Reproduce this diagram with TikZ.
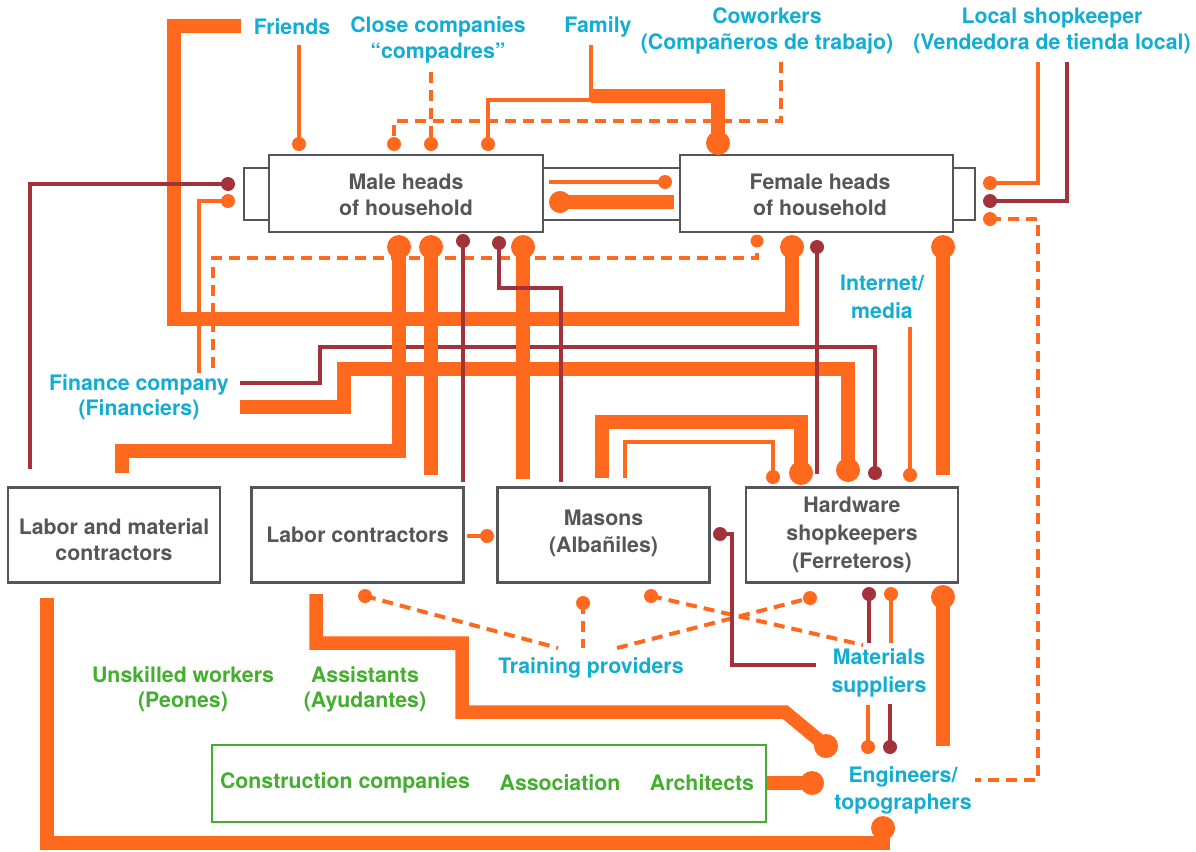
\documentclass[tikz,border=0pt]{standalone}
\usepackage{fontspec}
\setmainfont{TeX Gyre Heros}
\definecolor{pipeorange}{HTML}{FF691E}
\definecolor{pipered}{HTML}{A3323A}
\definecolor{lblblue}{HTML}{12ADD3}
\definecolor{lblgreen}{HTML}{44AE2E}
\definecolor{boxgray}{HTML}{55565A}
\newcommand\blob[3]{\fill[#1] (#2) circle (#3);}
\begin{document}
\begin{tikzpicture}[x=1pt,y=-1pt,
  txt/.style={font=\fontsize{21.3}{26}\selectfont\bfseries, align=center, inner sep=0pt},
  bluelbl/.style={txt, text=lblblue},
  greenlbl/.style={txt, text=lblgreen},
  actor/.style={txt, draw=boxgray, line width=2.4pt, text=boxgray, minimum width=#1},
  bigpipe/.style={draw=pipeorange, line width=13.5pt},
  thinpipe/.style={draw=pipeorange, line width=3.6pt},
  redpipe/.style={draw=pipered, line width=3.6pt},
  dashpipe/.style={draw=pipeorange, line width=4pt, dash pattern=on 11pt off 7pt},
  tabline/.style={draw=boxgray, line width=2.4pt}]
\useasboundingbox (0,0) rectangle (1196,851);

% ---- household boxes with their side tabs
\draw[tabline] (269,168) -- (244,168) -- (244,220) -- (269,220);
\draw[tabline] (543,168) -- (680,168);
\draw[tabline] (543,220) -- (680,220);
\draw[tabline] (953,168) -- (975,168) -- (975,220) -- (953,220);
\node[actor=274pt, minimum height=77pt] (male) at (406,193.5) {};
\node[txt, text=boxgray] at (406,195) {Male heads\\of household};
\node[actor=273pt, minimum height=77pt] (female) at (816.5,193.5) {};
\node[txt, text=boxgray] at (820,195) {Female heads\\of household};

% ---- trade boxes
\node[actor=212pt, minimum height=95pt] (lmc) at (114,535) {};
\node[txt, text=boxgray] at (114,540) {Labor and material\\contractors};
\node[actor=212pt, minimum height=95pt] (lc) at (357.5,535) {};
\node[txt, text=boxgray] at (357.5,535) {Labor contractors};
\node[actor=212pt, minimum height=95pt] (masons) at (603.5,535) {};
\node[txt, text=boxgray, font=\fontsize{21.3}{27}\selectfont\bfseries] at (603.5,533) {Masons\\(Albañiles)};
\node[actor=212pt, minimum height=95pt] (hardware) at (852,535) {};
\node[txt, text=boxgray, font=\fontsize{21.3}{28}\selectfont\bfseries] at (852,535) {Hardware\\shopkeepers\\(Ferreteros)};

% ---- group of formal actors
\node[draw=lblgreen, line width=2.4pt, minimum width=554pt, minimum height=77pt, inner sep=0pt] (formal) at (489,783.5) {};
\node[greenlbl] (constr) at (345,783) {Construction companies};
\node[greenlbl] (assoc) at (560,783) {Association};
\node[greenlbl] (archi) at (702,783) {Architects};

% ---- outside labels
\node[bluelbl] (friends) at (292,27) {Friends};
\node[bluelbl] (compadres) at (438,40) {Close companies\\“compadres”};
\node[bluelbl] (family) at (598,27) {Family};
\node[bluelbl] (coworkers) at (767,31) {Coworkers\\(Compañeros de trabajo)};
\node[bluelbl] (shop) at (1052,31) {Local shopkeeper\\(Vendedora de tienda local)};
\node[bluelbl, font=\fontsize{21.3}{28}\selectfont\bfseries] (internet) at (882,297) {Internet/\\media};
\node[bluelbl, font=\fontsize{21.3}{25}\selectfont\bfseries] (finance) at (139,397) {Finance company\\(Financiers)};
\node[bluelbl] (training) at (591,668) {Training providers};
\node[bluelbl, font=\fontsize{21.3}{28}\selectfont\bfseries] (materials) at (879,673) {Materials\\suppliers};
\node[bluelbl, font=\fontsize{21.3}{27}\selectfont\bfseries] (engineers) at (903,790) {Engineers/\\topographers};
\node[greenlbl, font=\fontsize{21.3}{25}\selectfont\bfseries] (peones) at (183,689) {Unskilled workers\\(Peones)};
\node[greenlbl, font=\fontsize{21.3}{25}\selectfont\bfseries] (ayudantes) at (365,689) {Assistants\\(Ayudantes)};

% ---- long thick routes
\draw[bigpipe] (241,26) -- (174,26) -- (174,319) -- (792,319) -- (792,247);
\blob{pipeorange}{792,247}{12}
\draw[bigpipe] (240,407) -- (344,407) -- (344,369) -- (848,369) -- (848,470);
\blob{pipeorange}{848,470}{12}
\draw[bigpipe] (591,96) -- (718,96) -- (718,143);
\blob{pipeorange}{718,143}{12}

% ---- dashed ties
\draw[dashpipe] (431,72) -- (431,144);
\blob{pipeorange}{431,144}{7}
\draw[dashpipe] (781,62) -- (781,121) -- (394,121) -- (394,144);
\blob{pipeorange}{394,144}{7}
\draw[dashpipe] (213,368) -- (213,258) -- (757,258) -- (757,241);
\blob{pipeorange}{757,241}{6.5}
\draw[dashpipe] (990,219) -- (1038,219) -- (1038,780) -- (975,780);
\blob{pipeorange}{990,219}{7}
\draw[dashpipe] (365,596) -- (558,648);
\blob{pipeorange}{365,596}{7}
\draw[dashpipe] (583,603) -- (583,648);
\blob{pipeorange}{583,603}{7}
\draw[dashpipe] (617,648) -- (810,598);
\blob{pipeorange}{810,598}{7}
\draw[dashpipe] (651,596) -- (863,645);
\blob{pipeorange}{651,596}{7}

% ---- thin ties at the top
\draw[thinpipe] (299,45) -- (299,144);
\blob{pipeorange}{299,144}{7}
\draw[thinpipe] (591,45) -- (591,100) -- (488,100) -- (488,144);
\blob{pipeorange}{488,144}{7}
\draw[thinpipe] (1038,62) -- (1038,183) -- (990,183);
\blob{pipeorange}{990,183}{7}
\draw[redpipe] (1067,62) -- (1067,201) -- (990,201);
\blob{pipered}{990,201}{7}

% ---- between the two household heads
\draw[thinpipe] (549,182) -- (665,182);
\blob{pipeorange}{665,182}{7}
\draw[bigpipe] (560,202) -- (674,202);
\blob{pipeorange}{560,202}{11}

% ---- left side of male heads
\draw[thinpipe] (199,373) -- (199,201) -- (228,201);
\blob{pipeorange}{228,201}{7}
\draw[redpipe] (240,383) -- (320,383) -- (320,347) -- (875,347) -- (875,473);
\blob{pipered}{875,473}{7}
\draw[redpipe] (30,469) -- (30,184) -- (228,184);
\blob{pipered}{228,184}{7}

% ---- male heads down to the trades
\draw[bigpipe] (399,247) -- (399,451) -- (122,451) -- (122,473);
\blob{pipeorange}{399,247}{12}
\draw[bigpipe] (431,247) -- (431,475);
\blob{pipeorange}{431,247}{12}
\draw[bigpipe] (523,247) -- (523,479);
\blob{pipeorange}{523,247}{12}
\draw[redpipe] (463,241) -- (463,482);
\blob{pipered}{463,241}{7}
\draw[redpipe] (499,243) -- (499,288) -- (561,288) -- (561,482);
\blob{pipered}{499,243}{7}

% ---- female heads down to hardware
\draw[bigpipe] (943,247) -- (943,475);
\blob{pipeorange}{943,247}{12}
\draw[redpipe] (817,247) -- (817,474);
\blob{pipered}{817,247}{7}
\draw[thinpipe] (910,327) -- (910,475);
\blob{pipeorange}{910,475}{7}

% ---- masons and hardware shopkeepers
\draw[bigpipe] (602,478) -- (602,422) -- (801,422) -- (801,473);
\blob{pipeorange}{801,473}{12}
\draw[thinpipe] (625,478) -- (625,442) -- (773,442) -- (773,477);
\blob{pipeorange}{773,477}{7}
\draw[thinpipe] (467,536) -- (487,536);
\blob{pipeorange}{487,536}{7}
\draw[redpipe] (720,534) -- (732,534) -- (732,665) -- (816,665);
\blob{pipered}{720,534}{7}

% ---- hardware, suppliers and engineers
\draw[redpipe] (869,594) -- (869,643);
\blob{pipered}{869,594}{7}
\draw[thinpipe] (891,594) -- (891,643);
\blob{pipeorange}{891,594}{7}
\draw[bigpipe] (943,597) -- (943,746);
\blob{pipeorange}{943,597}{12}
\draw[thinpipe] (868,705) -- (868,747);
\blob{pipeorange}{868,747}{7}
\draw[redpipe] (890,704) -- (890,747);
\blob{pipered}{890,747}{7}

% ---- contractors and formal group to engineers
\draw[bigpipe] (316,594) -- (316,643) -- (462,643) -- (462,712) -- (785,712) -- (826,746);
\blob{pipeorange}{826,746}{12}
\draw[bigpipe] (47,598) -- (47,843) -- (883,843) -- (883,828);
\blob{pipeorange}{883,828}{12}
\draw[bigpipe] (formal.east |- 0,783) -- (812,783);
\blob{pipeorange}{812,783}{12}
\end{tikzpicture}
\end{document}
